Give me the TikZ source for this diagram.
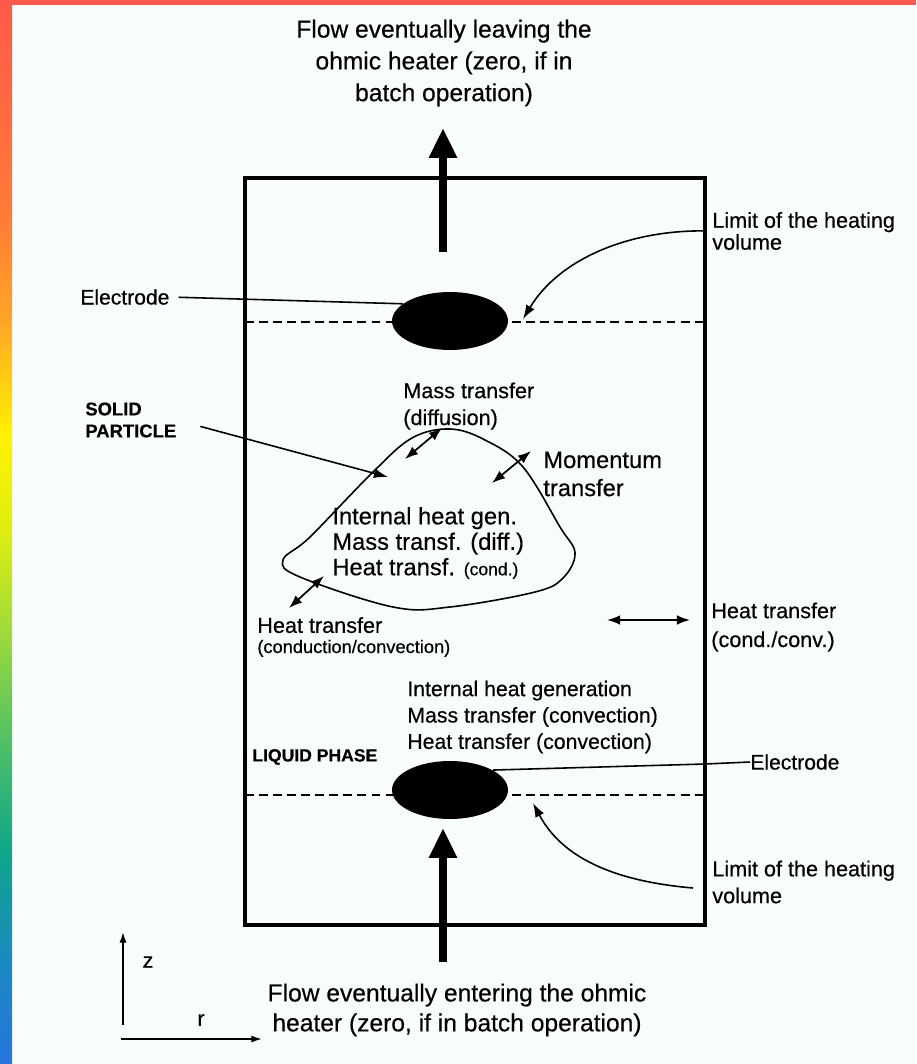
\documentclass[tikz,border=0pt]{standalone}
\usepackage{fontspec}
\setmainfont{Liberation Sans}[FakeBold=0.4]
\usetikzlibrary{arrows.meta,shapes.geometric}
\definecolor{paper}{HTML}{F9FCFD}
\definecolor{s0}{HTML}{FF5A4B}
\definecolor{s1}{HTML}{FF7A38}
\definecolor{s2}{HTML}{FFA526}
\definecolor{s3}{HTML}{FFF200}
\definecolor{s4}{HTML}{DDEE10}
\definecolor{s5}{HTML}{9AD93E}
\definecolor{s6}{HTML}{4EBF67}
\definecolor{s7}{HTML}{0FA68A}
\definecolor{s8}{HTML}{1A8BC0}
\definecolor{s9}{HTML}{2775DE}
\begin{document}
\begin{tikzpicture}[x=0.02cm, y=-0.02cm,
    every node/.style={inner sep=0pt, align=left, font=\fontsize{12.3}{15}\selectfont},
    flow/.style={line width=4.5pt, -{Triangle[length=17pt,width=15pt]}},
    wall/.style={line width=1.8pt},
    limit/.style={line width=1.1pt, dash pattern=on 5pt off 3pt},
    electrode/.style={ellipse, fill=black, minimum width=2.32cm, minimum height=1.16cm},
    lead/.style={line width=0.9pt},
    pointer/.style={line width=0.9pt, -{Latex[length=8pt,width=5.5pt]}},
    both/.style={line width=1pt, {Latex[length=7.5pt,width=5.5pt]}-{Latex[length=7.5pt,width=5.5pt]}},
    axis/.style={line width=0.9pt, -{Latex[length=6pt,width=4pt]}}]
    \useasboundingbox (0,0) rectangle (916,1064);
    \fill[paper] (0,0) rectangle (916,1064);
    \fill[s0] (0,0) rectangle (916,5);
    \shade[top color=s0, bottom color=s1] (0,0) rectangle (12,213);
    \shade[top color=s1, bottom color=s2] (0,213) rectangle (12,320);
    \shade[top color=s2, bottom color=s3] (0,320) rectangle (12,436);
    \shade[top color=s3, bottom color=s4] (0,436) rectangle (12,532);
    \shade[top color=s4, bottom color=s5] (0,532) rectangle (12,638);
    \shade[top color=s5, bottom color=s6] (0,638) rectangle (12,745);
    \shade[top color=s6, bottom color=s7] (0,745) rectangle (12,851);
    \shade[top color=s7, bottom color=s8] (0,851) rectangle (12,958);
    \shade[top color=s8, bottom color=s9] (0,958) rectangle (12,1064);

    \draw[wall] (245,178) rectangle (705,925);
    \draw[limit] (245,322) -- (705,322);
    \draw[limit] (245,795) -- (705,795);
    \node[electrode] (eltop) at (450,321) {};
    \node[electrode] (elbot) at (450,790) {};

    \node[align=center, font=\fontsize{14}{18.1}\selectfont] (outlbl) at (444,63) {Flow eventually leaving the\\ohmic heater (zero, if in\\batch operation)};
    \node[align=center, font=\fontsize{14}{17}\selectfont] (inlbl) at (457,1010) {Flow eventually entering the ohmic\\heater (zero, if in batch operation)};
    \coordinate (outtail) at (443,252);
    \coordinate (outtip) at (443,128);
    \coordinate (intail) at (443,962);
    \coordinate (intip) at (443,828);
    \draw[flow] (outtail) -- (outtip);
    \draw[flow] (intail) -- (intip);

    \node[anchor=west, font=\fontsize{12}{14}\selectfont] (eltoplbl) at (80,297) {Electrode};
    \node[anchor=west, font=\fontsize{12}{14}\selectfont] (elbotlbl) at (750,762) {Electrode};
    \draw[lead, shorten <=5pt] (eltoplbl.east) -- (eltop.160);
    \draw[lead] (elbot.25) -- (705,764) -- (elbotlbl.west);

    \node[anchor=west, font=\fontsize{12.3}{12.5}\selectfont] (limtop) at (712,231) {Limit of the heating\\volume};
    \node[anchor=west, font=\fontsize{12.3}{15.3}\selectfont] (limbot) at (712,882) {Limit of the heating\\volume};
    \coordinate (limtoptip) at (523,319);
    \coordinate (limbottail) at (693,888);
    \coordinate (limbottip) at (533,803);
    \draw[pointer, shorten <=4pt] (limtop.west) .. controls (630,230) and (560,258) .. (limtoptip);
    \draw[pointer] (limbottail) .. controls (600,880) and (558,850) .. (limbottip);

    \node[anchor=west, font=\bfseries\fontsize{10.5}{12.5}\selectfont] (solid) at (85,420) {SOLID\\PARTICLE};
    \coordinate (soltip) at (388,477);
    \draw[pointer, shorten <=14pt] (solid.east) -- (soltip);
    \draw[lead] plot[smooth cycle, tension=0.6] coordinates {(450,429) (485,440) (523,467) (560,527) (575,553) (563,578) (535,592) (450,607) (393,607) (300,577) (283,560) (310,537) (373,472) (412,438)};

    \node[anchor=west, font=\fontsize{12.3}{15.3}\selectfont] (diff) at (403,406) {Mass transfer\\(diffusion)};
    \node[anchor=west, font=\fontsize{13.5}{16}\selectfont] (mom) at (543,474) {Momentum\\transfer};
    \node[anchor=west, font=\fontsize{13.5}{14.5}\selectfont] (inner) at (332,543) {Internal heat gen.\\Mass transf. (diff.)\\Heat transf. {\fontsize{10}{10}\selectfont(cond.)}};
    \node[anchor=west, font=\fontsize{12.3}{11.5}\selectfont] (heatsol) at (257,637) {Heat transfer\\{\fontsize{10.4}{11}\selectfont(conduction/convection)}};
    \node[anchor=west, font=\fontsize{12.3}{16.4}\selectfont] (heatliq) at (711,627) {Heat transfer\\(cond./conv.)};
    \node[anchor=west, font=\fontsize{12.1}{15}\selectfont] (liqgen) at (407,717) {Internal heat generation\\Mass transfer (convection)\\Heat transfer (convection)};
    \node[anchor=west, font=\bfseries\fontsize{10}{12}\selectfont] (liquid) at (252,757) {LIQUID PHASE};

    \coordinate (diffa) at (442,428);
    \coordinate (diffb) at (405,459);
    \coordinate (moma) at (531,451);
    \coordinate (momb) at (492,483);
    \coordinate (heata) at (324,576);
    \coordinate (heatb) at (289,608);
    \coordinate (liqa) at (607,620);
    \coordinate (liqb) at (690,620);
    \draw[both] (diffa) -- (diffb);
    \draw[both] (moma) -- (momb);
    \draw[both] (heata) -- (heatb);
    \draw[both] (liqa) -- (liqb);

    \coordinate (zbase) at (123,1025);
    \coordinate (ztip) at (123,932);
    \coordinate (rbase) at (121,1039);
    \coordinate (rtip) at (262,1039);
    \draw[axis] (zbase) -- (ztip);
    \draw[axis] (rbase) -- (rtip);
    \node (zlbl) at (148,962) {z};
    \node (rlbl) at (201,1020) {r};
\end{tikzpicture}
\end{document}
